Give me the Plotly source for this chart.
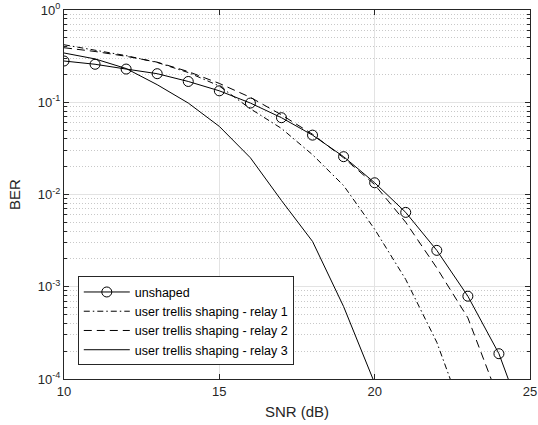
import plotly.graph_objects as go

snr = list(range(10, 26))
unshaped = [0.28, 0.258, 0.229, 0.204, 0.168, 0.133, 0.098, 0.068, 0.044, 0.0257,
            0.0134, 0.0064, 0.00248, 7.9e-4, 1.88e-4, 2.3e-5]
snr_r1 = list(range(10, 24))
relay1 = [0.42, 0.365, 0.32, 0.27, 0.21, 0.15, 0.085, 0.052, 0.027, 0.0125,
          0.0042, 0.0012, 2.5e-4, 3e-5]
snr_r2 = list(range(10, 25))
relay2 = [0.39, 0.355, 0.315, 0.272, 0.215, 0.16, 0.113, 0.073, 0.045, 0.025,
          0.0128, 0.005, 0.0016, 4.6e-4, 6e-5]
snr_r3 = list(range(10, 21))
relay3 = [0.342, 0.295, 0.232, 0.155, 0.098, 0.0547, 0.025, 0.0086, 0.0031, 6.1e-4, 9e-5]

names = ["unshaped", "user trellis shaping - relay 1",
         "user trellis shaping - relay 2", "user trellis shaping - relay 3"]

x_ticks = [10, 15, 20, 25]
y_ticks = [1e-4, 1e-3, 1e-2, 1e-1, 1]
y_ticktext = ["10<sup>-4</sup>", "10<sup>-3</sup>", "10<sup>-2</sup>", "10<sup>-1</sup>", "10<sup>0</sup>"]
y_minor = [m * 10 ** e for e in range(-4, 0) for m in range(2, 10)]

fig = go.Figure()
fig.add_trace(go.Scatter(x=snr, y=unshaped, name=names[0], mode="lines+markers",
                         line=dict(color="black", width=1),
                         marker=dict(symbol="circle-open", size=10, color="black",
                                     line=dict(width=1, color="black"))))
fig.add_trace(go.Scatter(x=snr_r1, y=relay1, name=names[1], mode="lines",
                         line=dict(color="black", width=1, dash="6px,3px,1.5px,3px")))
fig.add_trace(go.Scatter(x=snr_r2, y=relay2, name=names[2], mode="lines",
                         line=dict(color="black", width=1, dash="8px,5px")))
fig.add_trace(go.Scatter(x=snr_r3, y=relay3, name=names[3], mode="lines",
                         line=dict(color="black", width=1)))

fam = "Liberation Sans, Arial, sans-serif"
tick_font = dict(family=fam, size=13, color="#262626")

fig.update_layout(
    width=538, height=425,
    margin=dict(l=63.5, r=7.5, t=10.3, b=45.7, autoexpand=False),
    paper_bgcolor="white", plot_bgcolor="white",
    font=tick_font,
    showlegend=True,
    legend=dict(x=0.0296, y=0.037, xanchor="left", yanchor="bottom",
                bgcolor="white", bordercolor="#262626", borderwidth=1,
                font=dict(family=fam, size=12.5, color="black"),
                tracegroupgap=0, itemwidth=46),
    xaxis=dict(range=[10, 25], tickvals=x_ticks, ticks="inside", ticklen=5,
               tickcolor="#262626", showline=True, linecolor="#262626", linewidth=1,
               mirror="ticks", showgrid=True, gridcolor="#e3e3e3", gridwidth=1,
               zeroline=False, automargin=False,
               title=dict(text="SNR (dB)", font=dict(family=fam, size=15, color="#262626"), standoff=8),
               tickfont=tick_font),
    yaxis=dict(type="log", range=[-4, 0], tickvals=y_ticks, ticktext=y_ticktext,
               ticks="inside", ticklen=5, tickcolor="#262626", showline=True,
               linecolor="#262626", linewidth=1, mirror="allticks",
               showgrid=True, gridcolor="#e3e3e3", gridwidth=1, zeroline=False,
               automargin=False,
               title=dict(text="BER", font=dict(family=fam, size=15, color="#262626"), standoff=13),
               tickfont=tick_font,
               minor=dict(tickvals=y_minor, ticks="inside", ticklen=3, tickcolor="#262626",
                          showgrid=True, gridcolor="#c8c8c8", griddash="1px,2px", gridwidth=1)),
)

fig.write_html("out.html", config={"displayModeBar": False},
               post_script="document.body.style.margin='0';document.body.style.overflow='hidden';")
